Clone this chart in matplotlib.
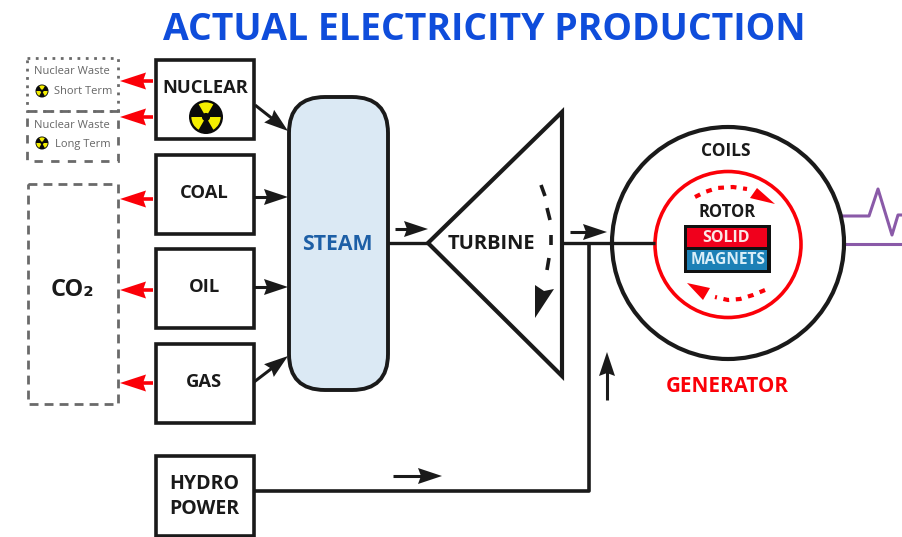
import math
import matplotlib
matplotlib.use("Agg")
import matplotlib.pyplot as plt
from matplotlib.patches import Rectangle, FancyBboxPatch, Polygon, Circle, Wedge

FONT = "Open Sans"
plt.rcParams["font.family"] = [FONT, "DejaVu Sans"]

TITLE = "ACTUAL ELECTRICITY PRODUCTION"
SOURCES = ["NUCLEAR", "COAL", "OIL", "GAS"]
SOURCE_TOPS = [60, 155, 249, 344]
WASTE = ["Short Term", "Long Term"]

fig = plt.figure(figsize=(9.03, 5.37), dpi=100)
ax = fig.add_axes([0, 0, 1, 1])
ax.set_xlim(0, 903); ax.set_ylim(537, 0); ax.axis("off")

K = "#1a1a1a"
RED = "#fb0008"

def txt(x, y, s, size, color=K, weight="bold", **kw):
    ax.text(x, y, s, fontsize=size, color=color, weight=weight, ha="center",
            va="center", zorder=6, **kw)

def line(xs, ys, c=K, lw=2.4, z=2, **kw):
    ax.plot(xs, ys, color=c, lw=lw, zorder=z, solid_capstyle="butt", **kw)

def arrow(x0, y0, x1, y1, c=K, head=24, hw=8, lw=2.2):
    d = math.hypot(x1 - x0, y1 - y0)
    ux, uy = (x1 - x0) / d, (y1 - y0) / d
    bx, by = x1 - ux * head, y1 - uy * head
    line([x0, bx + ux * 6], [y0, by + uy * 6], c=c, lw=lw, z=4)
    ax.add_patch(Polygon([(x1, y1), (bx - uy * hw, by + ux * hw),
                          (bx + ux * 3, by + uy * 3), (bx + uy * hw, by - ux * hw)],
                         closed=True, fc=c, ec="none", zorder=4))

def radiation(cx, cy, r):
    ax.add_patch(Circle((cx, cy), r, fc="#0a0a0a", ec="none", zorder=5))
    for a in (-90, 30, 150):
        ax.add_patch(Wedge((cx, cy), r * .86, a - 30, a + 30,
                           width=r * .62, fc="#f4ee00", ec="none", zorder=6))

# title
txt(484, 30, TITLE, 26.9, color="#0f4ddb")

# source boxes
for name, top in zip(SOURCES, SOURCE_TOPS):
    ax.add_patch(Rectangle((156, top), 98, 79, fc="white", ec=K, lw=2.6, zorder=3))
txt(205, 88, "NUCLEAR", 13.2)
txt(204, 193, "COAL", 13.2)
txt(205, 287, "OIL", 13.2)
txt(204, 382, "GAS", 13.2)
radiation(206, 117, 17)
ax.add_patch(Rectangle((156, 456), 98, 80, fc="white", ec=K, lw=2.6, zorder=3))
txt(204, 484, "HYDRO", 14)
txt(204, 509, "POWER", 14)

# waste boxes
G = "#6a6a6a"
ax.add_patch(Rectangle((27, 58), 91, 53, fc="none", ec=G, lw=2.0, ls=(0, (1, 2)), zorder=2))
ax.add_patch(Rectangle((27, 111), 91, 50, fc="none", ec=G, lw=2.0, ls=(0, (3, 3)), zorder=2))
ax.add_patch(Rectangle((28, 184), 90, 220, fc="none", ec=G, lw=2.0, ls=(0, (3.2, 2.2)), zorder=2))
txt(72, 72, "Nuclear Waste", 8, color="#666666", weight="normal")
txt(83, 92, WASTE[0], 8, color="#666666", weight="normal")
radiation(42, 91, 6.5)
txt(72, 125, "Nuclear Waste", 8, color="#666666", weight="normal")
txt(83, 144, WASTE[1], 8, color="#666666", weight="normal")
radiation(42, 143, 6.5)
txt(72, 290, "CO₂", 17)

# red output arrows
for y in (81, 117, 199, 290, 383):
    arrow(153, y, 120, y, c=RED, head=26, hw=8.5, lw=2.6)

# steam
ax.add_patch(FancyBboxPatch((289 + 36, 97 + 36), 99 - 72, 293 - 72,
                            boxstyle="round,pad=36,rounding_size=36",
                            fc="#dbe9f4", ec=K, lw=2.8, zorder=3))
txt(337, 244, "STEAM", 15.3, color="#1d5fa6")

# feed arrows
arrow(255, 105, 288, 131)
arrow(254, 197, 288, 197)
arrow(254, 287, 288, 287)
arrow(254, 382, 288, 356)

# turbine
line([388, 428], [243, 243])
ax.add_patch(Polygon([(428, 243), (562, 112), (562, 376)], closed=True,
                     fc="white", ec=K, lw=3, zorder=3))
txt(491, 244, "TURBINE", 14.5)
arrow(395, 229, 428, 229)
for xs, ys in (([541, 545], [185, 196]), ([547, 550], [208, 220]),
               ([551, 551], [235, 245]), ([549, 547], [258, 270])):
    line(xs, ys, lw=2.6, z=5)
ax.add_patch(Polygon([(535, 318), (535, 285), (544, 291), (554, 289)],
                     closed=True, fc=K, ec="none", zorder=5))

# shaft & hydro line
line([562, 655], [243, 243])
line([589, 589, 254], [243, 491, 491], lw=2.6)
arrow(570, 232, 607, 232)
arrow(607, 400, 607, 352)
arrow(393, 476, 442, 476)

# generator
ax.add_patch(Circle((728, 243), 116, fc="white", ec=K, lw=3.0, zorder=3))
ax.add_patch(Circle((728, 244.5), 73, fc="white", ec=RED, lw=2.6, zorder=4))
line([655, 612], [243, 243], z=5)
txt(726, 151, "COILS", 12.5)
txt(727, 212, "ROTOR", 12)
ax.add_patch(Rectangle((684, 225), 87, 48, fc="#111111", ec="none", zorder=5))
ax.add_patch(Rectangle((687, 228), 80, 19, fc="#f0001c", ec="none", zorder=5))
ax.add_patch(Rectangle((687, 250), 80, 20, fc="#1c80b6", ec="none", zorder=5))
txt(726, 238.5, "SOLID", 11.5, color="#fbe6e6")
txt(728, 260.5, "MAGNETS", 11.2, color="#d9eef8")

ax.plot([695, 705, 717, 733, 747], [197, 192, 188, 187, 189], color=RED, lw=3,
        ls=(0, (1.4, 1.6)), zorder=5)
ax.add_patch(Polygon([(775, 204), (757, 188), (750, 198)], closed=True, fc=RED, ec="none", zorder=5))
ax.plot([765, 753, 740, 728, 715], [290, 295, 299, 300, 297], color=RED, lw=3,
        ls=(0, (1.4, 1.6)), zorder=5)
ax.add_patch(Polygon([(687, 283), (710, 288), (703, 300)], closed=True, fc=RED, ec="none", zorder=5))

txt(727, 386, "GENERATOR", 14.9, color=RED)

# output waveform
P = "#8a5aa8"
line([841, 869, 878, 892, 898, 903], [216, 216, 189, 235, 215, 215], c=P, lw=2.2)
line([844, 903], [244, 244], c=P, lw=2.2)

fig.savefig("out.png", dpi=100)
